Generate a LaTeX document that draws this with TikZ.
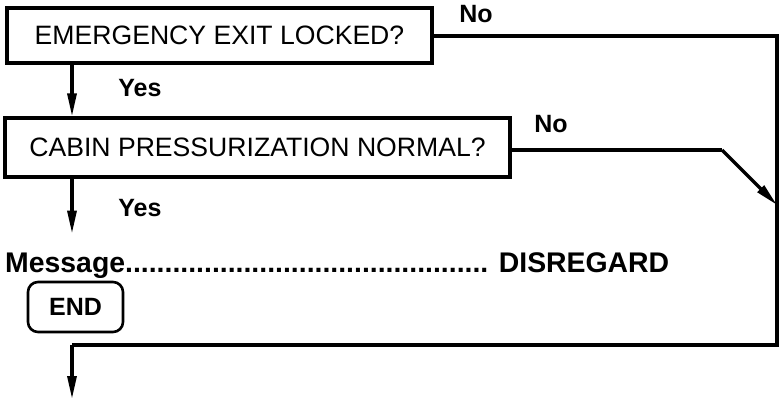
\documentclass[tikz,border=0pt]{standalone}
\usepackage{fontspec}
\setmainfont{Liberation Sans}
\usetikzlibrary{arrows.meta,positioning}

\begin{document}
\begin{tikzpicture}[
  x=1pt, y=-1pt,
  qbx/.style={draw,line width=3.2pt,inner sep=0pt,
              font=\fontsize{26.6}{30}\selectfont},
  lbl/.style={inner sep=0pt,font=\fontsize{25}{28}\selectfont\bfseries},
  endbx/.style={draw,line width=2.6pt,rounded corners=10pt,inner sep=0pt,
                minimum width=95pt,minimum height=50pt,
                font=\fontsize{25}{28}\selectfont\bfseries},
  ln/.style={line width=3.2pt},
  ar/.style={line width=3.2pt,-{Triangle[length=23pt,width=9pt]}}]
\useasboundingbox (0,0) rectangle (781,399);
\node[qbx,minimum width=425pt,minimum height=55pt] (q1) at (219.5,35.5)
  {EMERGENCY EXIT LOCKED?};
\node[qbx,minimum width=505pt,minimum height=59pt] (q2) at (257.5,147.5)
  {CABIN PRESSURIZATION NORMAL?};
\node[lbl] (yes1) at (140,88) {Yes};
\node[lbl] (yes2) at (140,208) {Yes};
\node[lbl] (no1) at (476,14) {No};
\node[lbl] (no2) at (551,124) {No};
\node[inner sep=0pt,anchor=base west,font=\fontsize{28.4}{30}\selectfont\bfseries]
  (msg) at (5,272) {Message.............................................. DISREGARD};
\node[endbx] (end) at (75.5,307) {END};
% connector corners
\coordinate (c1) at (777,36);
\coordinate (c2) at (777,345);
\coordinate (c3) at (72,345);
\coordinate (c4) at (72,399);
\coordinate (d1) at (722,150);
\coordinate (d2) at (777,205);
\draw[ar] (q1.south -| c3) -- (q2.north -| c3);
\draw[ar] (q2.south -| c3) -- ++(0,55);
\draw[ln] (q1.east |- c1) -- (c1) -- (c2) -- (c3);
\draw[ar] (c3) -- (c4);
\draw[ln] (q2.east |- d1) -- (d1);
\draw[ar] (d1) -- (d2);
\end{tikzpicture}
\end{document}
